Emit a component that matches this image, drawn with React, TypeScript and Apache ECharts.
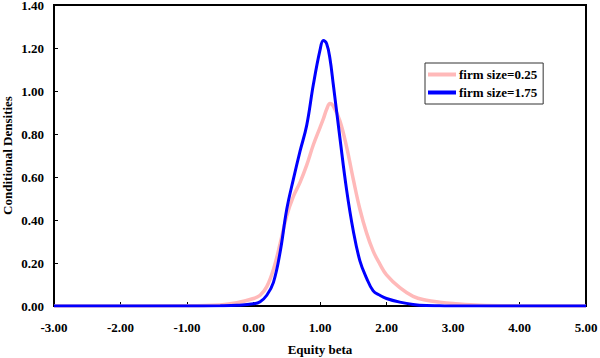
import React, { useEffect, useRef } from "react";
import * as echarts from "echarts";

const betaGrid = [
  -3, -1, -0.5, -0.25, 0, 0.1, 0.2, 0.3, 0.4, 0.5, 0.6, 0.7, 0.8, 0.9, 1.0, 1.05, 1.1, 1.15, 1.2,
  1.3, 1.4, 1.5, 1.6, 1.7, 1.8, 1.9, 2.0, 2.2, 2.4, 2.6, 2.8, 3.0, 3.4, 4.0, 5.0,
];
const densitySize025 = [
  0, 0.001, 0.005, 0.015, 0.035, 0.05, 0.09, 0.17, 0.29, 0.42, 0.51, 0.575, 0.655, 0.75, 0.83, 0.87,
  0.915, 0.942, 0.93, 0.86, 0.74, 0.59, 0.45, 0.34, 0.255, 0.195, 0.145, 0.085, 0.045, 0.027, 0.018,
  0.012, 0.004, 0.001, 0,
];
const densitySize175 = [
  0, 0, 0.001, 0.003, 0.01, 0.02, 0.05, 0.11, 0.25, 0.45, 0.59, 0.72, 0.84, 1.03, 1.19, 1.235, 1.22,
  1.15, 1.03, 0.78, 0.54, 0.35, 0.21, 0.13, 0.07, 0.05, 0.035, 0.018, 0.007, 0.002, 0.001, 0, 0, 0, 0,
];
const seriesNames = ["firm size=0.25", "firm size=1.75"];
const xAxisTitle = "Equity beta";
const yAxisTitle = "Conditional Densities";

const FONT = "'Liberation Serif', 'Times New Roman', serif";

export default function App() {
  const ref = useRef<HTMLDivElement>(null);
  useEffect(() => {
    if (!ref.current) return;
    const chart = echarts.init(ref.current, undefined, { renderer: "svg" });
    const pair = (ys: number[]) => betaGrid.map((x, i) => [x, ys[i]]);
    chart.setOption({
      animation: false,
      backgroundColor: "#fff",
      grid: {
        left: 54,
        right: 14,
        top: 5,
        bottom: 52,
        show: true,
        borderColor: "#000",
        borderWidth: 2,
        backgroundColor: "transparent",
        outerBoundsMode: "none",
        containLabel: false,
      },
      legend: {
        orient: "vertical",
        left: 425,
        top: 63,
        width: 122,
        borderColor: "#333",
        borderWidth: 1,
        padding: [5, 6, 5, 3],
        itemGap: 5,
        itemWidth: 28,
        itemHeight: 4,
        icon: "rect",
        textStyle: { fontFamily: FONT, fontWeight: "bold", fontSize: 13, color: "#000", padding: [0, 0, 0, -2] },
        data: seriesNames,
      },
      xAxis: {
        type: "value",
        min: -3,
        max: 5,
        interval: 1,
        name: xAxisTitle,
        nameLocation: "middle",
        nameGap: 37,
        nameMoveOverlap: false,
        nameTextStyle: { fontFamily: FONT, fontWeight: "bold", fontSize: 13, color: "#000" },
        axisLine: { show: true, onZero: false, lineStyle: { color: "#000", width: 2 } },
        axisTick: { show: true, inside: true, length: 4, lineStyle: { color: "#000" } },
        axisLabel: {
          margin: 15,
          fontFamily: FONT,
          fontWeight: "bold",
          fontSize: 13,
          color: "#000",
          formatter: (v: number) => v.toFixed(2),
        },
        splitLine: { show: false },
      },
      yAxis: {
        type: "value",
        min: 0,
        max: 1.4,
        interval: 0.2,
        name: yAxisTitle,
        nameLocation: "middle",
        nameGap: 40,
        nameMoveOverlap: false,
        nameRotate: 90,
        nameTextStyle: { fontFamily: FONT, fontWeight: "bold", fontSize: 13, color: "#000" },
        axisLine: { show: true, onZero: false, lineStyle: { color: "#000", width: 2 } },
        axisTick: { show: true, inside: true, length: 4, lineStyle: { color: "#000" } },
        axisLabel: {
          margin: 10,
          fontFamily: FONT,
          fontWeight: "bold",
          fontSize: 13,
          lineHeight: 13,
          color: "#000",
          formatter: (v: number) => v.toFixed(2),
        },
        splitLine: { show: false },
      },
      series: [
        {
          name: seriesNames[0],
          type: "line",
          data: pair(densitySize025),
          smooth: 0.4,
          showSymbol: false,
          symbol: "none",
          color: "#FFB9B9",
          lineStyle: { color: "#FFB9B9", width: 3.5 },
          z: 2,
        },
        {
          name: seriesNames[1],
          type: "line",
          data: pair(densitySize175),
          smooth: 0.4,
          showSymbol: false,
          symbol: "none",
          color: "#0000FF",
          lineStyle: { color: "#0000FF", width: 3 },
          z: 3,
        },
      ],
    });
    return () => chart.dispose();
  }, []);
  return <div ref={ref} style={{ width: 600, height: 358, position: "absolute", left: 0, top: 0 }} />;
}
